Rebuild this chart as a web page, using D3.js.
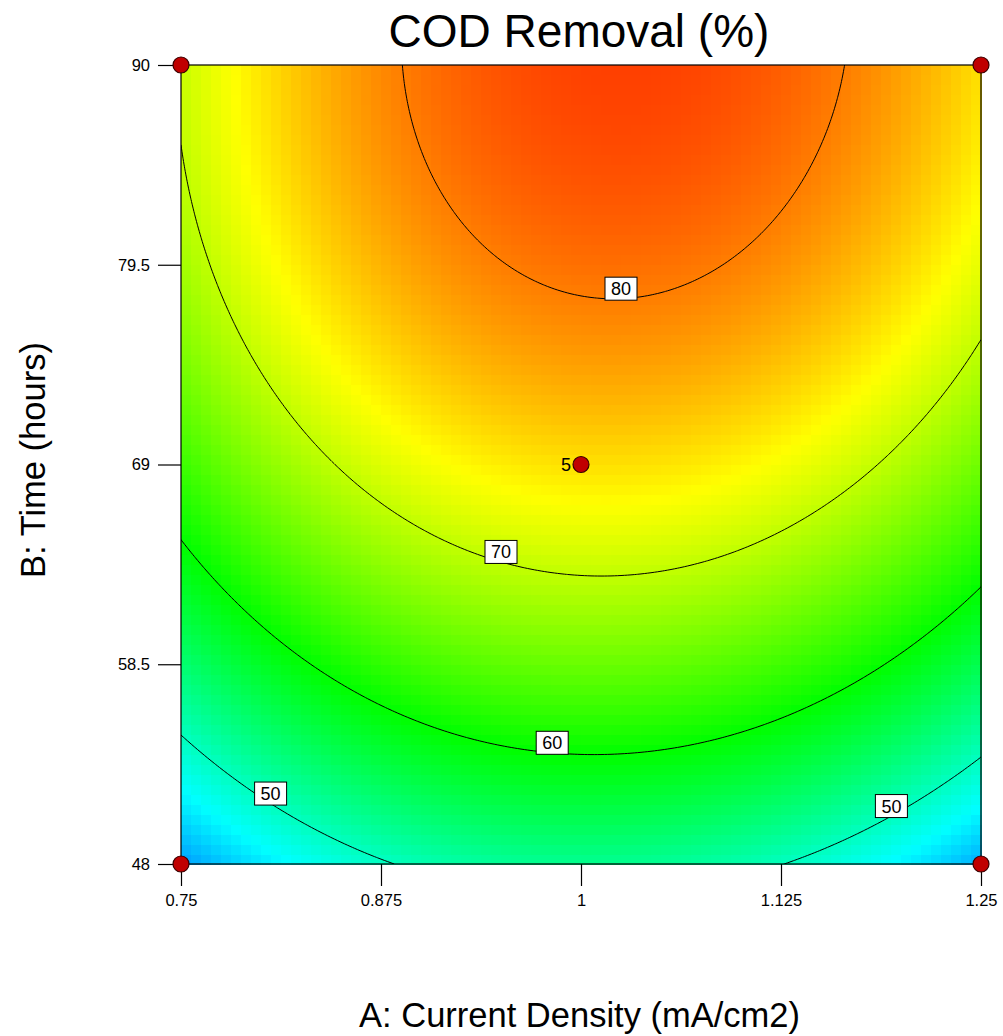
<!DOCTYPE html>
<html>
<head>
<meta charset="utf-8">
<script src="https://cdn.jsdelivr.net/npm/d3@7"></script>
<style>
  body { margin: 0; background: #fff; }
  svg { display: block; }
  text { font-family: "Liberation Sans", Arial, Helvetica, sans-serif; fill: #000; }
</style>
</head>
<body>
<svg id="chart" width="1003" height="1036"></svg>
<script>
// Quadratic response model in coded factors (A, B scaled to [-1, 1])
const termNames = ["Intercept", "A", "B", "AB", "A^2", "B^2"];
const coefficients = [74.79, 1.33, 15.3, 0.9, -10.5, -7.0];

// Factor ranges and axis ticks
const factorA = [0.75, 1.25];
const factorB = [48, 90];
const xTicks = [0.75, 0.875, 1, 1.125, 1.25];
const yTicks = [48, 58.5, 69, 79.5, 90];

// Contour levels and where their labels sit (A value along the line)
const contourLevels = [50, 60, 70, 80];
const labelLevels = [80, 70, 60, 50, 50];
const labelAt = [1.025, 0.95, 0.982, 0.806, 1.194];

// Design points (factor settings and replicate counts)
const designA = [0.75, 0.75, 1.25, 1.25, 1];
const designB = [48, 90, 48, 90, 69];
const designCount = [1, 1, 1, 1, 5];

// Response colour ramp
const colorStops = [33.5, 46.75, 60, 73.25, 86.5];
const colorRange = ["#0000ff", "#00ffff", "#00ff00", "#ffff00", "#ff0000"];

const svg = d3.select("#chart");
const plot = { left: 181, right: 981, top: 65, bottom: 864 };

const x = d3.scaleLinear().domain(factorA).range([plot.left, plot.right]);
const y = d3.scaleLinear().domain(factorB).range([plot.bottom, plot.top]);
const color = d3.scaleLinear().domain(colorStops).range(colorRange).clamp(true);

const codeA = A => (A - (factorA[0] + factorA[1]) / 2) / ((factorA[1] - factorA[0]) / 2);
const codeB = B => (B - (factorB[0] + factorB[1]) / 2) / ((factorB[1] - factorB[0]) / 2);
const uncodeB = b => (factorB[0] + factorB[1]) / 2 + b * (factorB[1] - factorB[0]) / 2;

const [c0, cA, cB, cAB, cAA, cBB] = coefficients;
function predict(A, B) {
  const a = codeA(A), b = codeB(B);
  return c0 + cA * a + cB * b + cAB * a * b + cAA * a * a + cBB * b * b;
}

const defs = svg.append("defs");
defs.append("clipPath").attr("id", "plotClip")
  .append("rect")
  .attr("x", plot.left).attr("y", plot.top)
  .attr("width", plot.right - plot.left).attr("height", plot.bottom - plot.top);

// Filled response surface drawn as a grid of cells
const cells = 80;
const cellData = [];
for (let j = 0; j < cells; j++) {
  for (let i = 0; i < cells; i++) {
    const A0 = factorA[0] + (factorA[1] - factorA[0]) * i / cells;
    const A1 = factorA[0] + (factorA[1] - factorA[0]) * (i + 1) / cells;
    const B0 = factorB[0] + (factorB[1] - factorB[0]) * j / cells;
    const B1 = factorB[0] + (factorB[1] - factorB[0]) * (j + 1) / cells;
    cellData.push({ A0, A1, B0, B1, v: predict((A0 + A1) / 2, (B0 + B1) / 2) });
  }
}
svg.append("g").attr("shape-rendering", "crispEdges")
  .selectAll("rect").data(cellData).join("rect")
  .attr("x", d => x(d.A0))
  .attr("y", d => y(d.B1))
  .attr("width", d => x(d.A1) - x(d.A0) + 0.5)
  .attr("height", d => y(d.B0) - y(d.B1) + 0.5)
  .attr("fill", d => color(d.v));

// Contour lines from a fine grid
const n = 241;
const stepA = (factorA[1] - factorA[0]) / (n - 1);
const stepB = (factorB[1] - factorB[0]) / (n - 1);
const values = new Float64Array(n * n);
for (let j = 0; j < n; j++) {
  for (let i = 0; i < n; i++) {
    values[j * n + i] = predict(factorA[0] + i * stepA, factorB[0] + j * stepB);
  }
}
const contours = d3.contours().size([n, n]).thresholds(contourLevels)(values);
const gridPath = d3.geoPath(d3.geoTransform({
  point(px, py) {
    this.stream.point(x(factorA[0] + (px - 0.5) * stepA), y(factorB[0] + (py - 0.5) * stepB));
  }
}));
svg.append("g").attr("clip-path", "url(#plotClip)")
  .selectAll("path").data(contours).join("path")
  .attr("d", gridPath)
  .attr("fill", "none")
  .attr("stroke", "#000")
  .attr("stroke-width", 1);

// Plot frame
svg.append("rect")
  .attr("x", plot.left).attr("y", plot.top)
  .attr("width", plot.right - plot.left).attr("height", plot.bottom - plot.top)
  .attr("fill", "none").attr("stroke", "#000").attr("stroke-width", 1.2);

// Axes
const xAxis = d3.axisBottom(x).tickValues(xTicks).tickSize(22).tickPadding(8)
  .tickFormat(d => String(d));
const yAxis = d3.axisLeft(y).tickValues(yTicks).tickSize(23).tickPadding(8)
  .tickFormat(d => String(d));
const gx = svg.append("g").attr("transform", `translate(0,${plot.bottom})`).call(xAxis);
const gy = svg.append("g").attr("transform", `translate(${plot.left},0)`).call(yAxis);
[gx, gy].forEach(g => {
  g.select(".domain").remove();
  g.selectAll(".tick line").attr("stroke", "#000").attr("stroke-width", 1.2);
  g.selectAll(".tick text").attr("font-size", 16.5)
    .attr("font-family", "'Liberation Sans', Arial, sans-serif").attr("fill", "#000");
});

// Contour labels: solve the model for B on each labelled line
function lineB(A, level) {
  const a = codeA(A);
  const qa = cBB, qb = cB + cAB * a, qc = c0 + cA * a + cAA * a * a - level;
  const disc = Math.sqrt(qb * qb - 4 * qa * qc);
  const roots = [(-qb + disc) / (2 * qa), (-qb - disc) / (2 * qa)];
  const r = roots.find(v => v >= -1 && v <= 1);
  return uncodeB(r);
}
const labelG = svg.append("g");
labelLevels.forEach((lv, k) => {
  const A = labelAt[k];
  const cx = x(A), cy = y(lineB(A, lv)) - 10;
  const g = labelG.append("g").attr("transform", `translate(${cx},${cy})`);
  g.append("rect").attr("x", -16).attr("y", -11.5).attr("width", 32).attr("height", 23)
    .attr("fill", "#fff").attr("stroke", "#000").attr("stroke-width", 1);
  g.append("text").attr("text-anchor", "middle").attr("dy", "0.36em")
    .attr("font-size", 18).text(lv);
});

// Design points
const pts = designA.map((A, i) => ({ A, B: designB[i], count: designCount[i] }));
svg.append("g").selectAll("circle").data(pts).join("circle")
  .attr("cx", d => x(d.A)).attr("cy", d => y(d.B)).attr("r", 8)
  .attr("fill", "#c00000").attr("stroke", "#3a0000").attr("stroke-width", 1.2);
svg.append("g").selectAll("text").data(pts.filter(d => d.count > 1)).join("text")
  .attr("x", d => x(d.A) - 10).attr("y", d => y(d.B)).attr("dy", "0.36em")
  .attr("text-anchor", "end").attr("font-size", 18).text(d => d.count);

// Titles
svg.append("text").attr("x", 579).attr("y", 47).attr("text-anchor", "middle")
  .attr("font-size", 46).text("COD Removal (%)");
svg.append("text").attr("x", 579.5).attr("y", 1027).attr("text-anchor", "middle")
  .attr("font-size", 34.5).text("A: Current Density (mA/cm2)");
svg.append("text").attr("transform", "translate(45,460) rotate(-90)")
  .attr("text-anchor", "middle").attr("font-size", 34.5).text("B: Time (hours)");
</script>
</body>
</html>
